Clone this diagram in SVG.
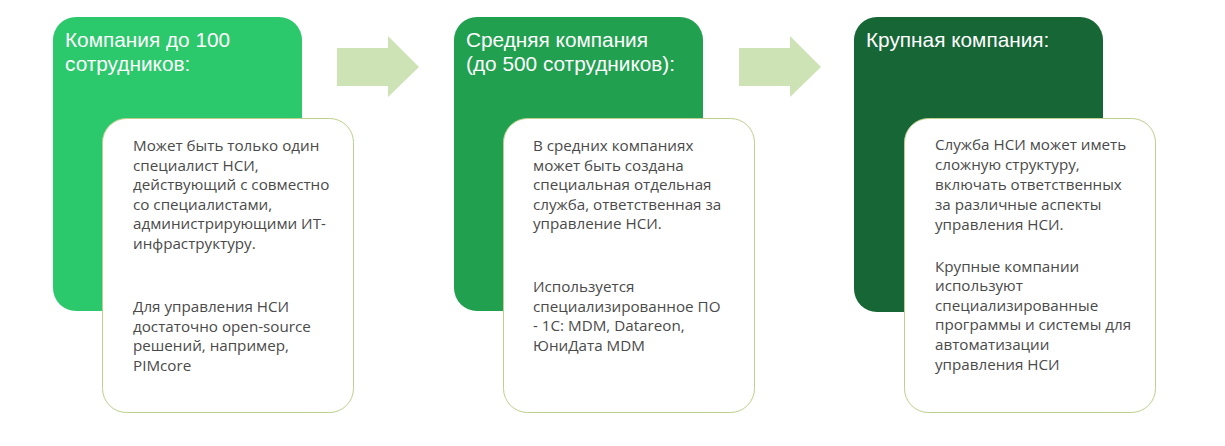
<svg xmlns="http://www.w3.org/2000/svg" width="1225" height="446" viewBox="0 0 1225 446">
<style>
.title{font-family:"Liberation Sans",Arial,sans-serif;font-size:20.8px;fill:#ffffff}
.body{font-family:"Open Sans","Liberation Sans",sans-serif;font-size:15.2px;fill:#4a4a4a}
.card{fill:#ffffff;stroke:#bccf8c;stroke-width:1}
.arrow{fill:#cde3b5}
</style>
<rect width="1225" height="446" fill="#ffffff"/>
<g id="connectors">
<polygon class="arrow" points="337,48 388,48 388,36 419,67 388,97 388,86 337,86"/>
<polygon class="arrow" points="739,48 790,48 790,36 821,67 790,97 790,86 739,86"/>
</g>
<g id="node1">
<rect x="53" y="17" width="249" height="294" rx="23" fill="#2bc86c"/>
<text class="title" x="65" y="47">Компания до 100<tspan x="65" dy="24">сотрудников:</tspan></text>
<rect class="card" x="102.5" y="118.5" width="251" height="294" rx="24"/>
<text class="body" x="133" y="151">Может быть только один<tspan x="133" dy="19.5">специалист НСИ,</tspan><tspan x="133" dy="19.5">действующий с совместно</tspan><tspan x="133" dy="19.5">со специалистами,</tspan><tspan x="133" dy="19.5">администрирующими ИТ-</tspan><tspan x="133" dy="20">инфраструктуру.</tspan></text>
<text class="body" x="133" y="312">Для управления НСИ<tspan x="133" dy="20">достаточно open-source</tspan><tspan x="133" dy="19">решений, например,</tspan><tspan x="133" dy="20">PIMcore</tspan></text>
</g>
<g id="node2">
<rect x="454" y="17" width="249" height="294" rx="23" fill="#21a04f"/>
<text class="title" x="466" y="47">Средняя компания<tspan x="466" dy="24">(до 500 сотрудников):</tspan></text>
<rect class="card" x="503.5" y="118.5" width="251" height="294" rx="24"/>
<text class="body" x="533" y="151">В средних компаниях<tspan x="533" dy="19.5">может быть создана</tspan><tspan x="533" dy="19.5">специальная отдельная</tspan><tspan x="533" dy="19.5">служба, ответственная за</tspan><tspan x="533" dy="19.5">управление НСИ.</tspan></text>
<text class="body" x="533" y="292">Используется<tspan x="533" dy="20">специализированное ПО</tspan><tspan x="533" dy="19">- 1С: MDM, Datareon,</tspan><tspan x="533" dy="20">ЮниДата MDM</tspan></text>
</g>
<g id="node3">
<rect x="854" y="17" width="249" height="295" rx="23" fill="#176636"/>
<text class="title" x="866" y="47">Крупная компания:</text>
<rect class="card" x="904.5" y="118.5" width="251" height="294" rx="24"/>
<text class="body" x="935" y="150">Служба НСИ может иметь<tspan x="935" dy="20">сложную структуру,</tspan><tspan x="935" dy="20">включать ответственных</tspan><tspan x="935" dy="19.5">за различные аспекты</tspan><tspan x="935" dy="20.5">управления НСИ.</tspan></text>
<text class="body" x="935" y="272">Крупные компании<tspan x="935" dy="19">используют</tspan><tspan x="935" dy="20">специализированные</tspan><tspan x="935" dy="19">программы и системы для</tspan><tspan x="935" dy="20">автоматизации</tspan><tspan x="935" dy="20">управления НСИ</tspan></text>
</g>
</svg>
